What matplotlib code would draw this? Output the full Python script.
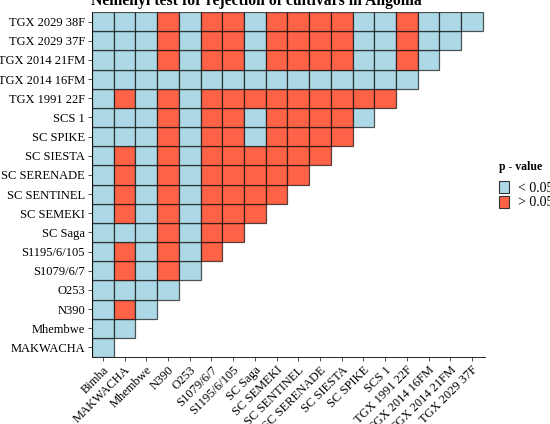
import matplotlib
matplotlib.use("Agg")
import matplotlib.pyplot as plt
from matplotlib.patches import Patch

plt.rcParams['font.family'] = ['Liberation Serif', 'DejaVu Serif']

# Cultivars (x axis, left to right) and rows (y axis, bottom to top)
x_cats = ["Bimha", "MAKWACHA", "Mhembwe", "N390", "O253", "S1079/6/7", "S1195/6/105",
          "SC Saga", "SC SEMEKI", "SC SENTINEL", "SC SERENADE", "SC SIESTA", "SC SPIKE",
          "SCS 1", "TGX 1991 22F", "TGX 2014 16FM", "TGX 2014 21FM", "TGX 2029 37F"]
y_cats = ["MAKWACHA", "Mhembwe", "N390", "O253", "S1079/6/7", "S1195/6/105", "SC Saga",
          "SC SEMEKI", "SC SENTINEL", "SC SERENADE", "SC SIESTA", "SC SPIKE", "SCS 1",
          "TGX 1991 22F", "TGX 2014 16FM", "TGX 2014 21FM", "TGX 2029 37F", "TGX 2029 38F"]

# 1 = p > 0.05, 0 = p < 0.05 (one row per y category, bottom to top)
sig = [
    [0],
    [0, 0],
    [0, 1, 0],
    [0, 0, 0, 0],
    [0, 1, 0, 1, 0],
    [0, 1, 0, 1, 0, 1],
    [0, 0, 0, 1, 0, 1, 1],
    [0, 1, 0, 1, 0, 1, 1, 1],
    [0, 1, 0, 1, 0, 1, 1, 1, 1],
    [0, 1, 0, 1, 0, 1, 1, 1, 1, 1],
    [0, 1, 0, 1, 0, 1, 1, 1, 1, 1, 1],
    [0, 0, 0, 1, 0, 1, 1, 0, 1, 1, 1, 1],
    [0, 0, 0, 1, 0, 1, 1, 0, 1, 1, 1, 1, 0],
    [0, 1, 0, 1, 0, 1, 1, 1, 1, 1, 1, 1, 1, 1],
    [0, 0, 0, 0, 0, 0, 0, 0, 0, 0, 0, 0, 0, 0, 0],
    [0, 0, 0, 1, 0, 1, 1, 0, 1, 1, 1, 1, 0, 0, 1, 0],
    [0, 0, 0, 1, 0, 1, 1, 0, 1, 1, 1, 1, 0, 0, 1, 0, 0],
    [0, 0, 0, 1, 0, 1, 1, 0, 1, 1, 1, 1, 0, 0, 1, 0, 0, 0],
]

farvid = {0: "#ADD8E6", 1: "#FF6347"}
silt = {0: "< 0.05", 1: "> 0.05"}

fig = plt.figure(figsize=(5.5, 4.24), dpi=100)
ax = fig.add_axes([92/550, 67/424, 393/550, 345/424])

for i, rida in enumerate(sig):
    ax.bar(range(len(rida)), 1, width=1, bottom=i - 0.5,
           color=[farvid[v] for v in rida],
           edgecolor=(0, 0, 0, 0.65), linewidth=0.9)

ax.set_xlim(-0.5, 17.6)
ax.set_ylim(-0.5, 17.5)
ax.set_xticks(range(len(x_cats)))
ax.set_xticklabels(x_cats, rotation=45, ha="right", rotation_mode="anchor", fontsize=9)
ax.set_yticks(range(len(y_cats)))
ax.set_yticklabels(y_cats, fontsize=9)
ax.tick_params(length=3, width=0.6, color="#333333", pad=2)
ax.spines["top"].set_visible(False)
ax.spines["right"].set_visible(False)
ax.spines["left"].set_linewidth(0.6)
ax.spines["bottom"].set_linewidth(0.6)

fig.text(256/550, 1 - 5/424, "Nemenyi test for rejection of cultivars in Angonia",
         ha="center", va="baseline", fontsize=11.3, fontweight="bold")

kasitsejad = [Patch(facecolor=farvid[k], edgecolor="#333333", linewidth=0.8) for k in (0, 1)]
leg = fig.legend(kasitsejad, [silt[0], silt[1]], title="p - value",
                 loc="upper left", bbox_to_anchor=(499/550, 1 - 161/424),
                 frameon=False, fontsize=10, handlelength=0.72, handleheight=0.94,
                 handletextpad=0.65, labelspacing=0.05, borderpad=0, borderaxespad=0)
leg.get_title().set_fontweight("bold")
leg.get_title().set_fontsize(8.5)
leg._legend_box.align = "left"
leg._legend_box.sep = 6

fig.savefig("out.png", dpi=100)
